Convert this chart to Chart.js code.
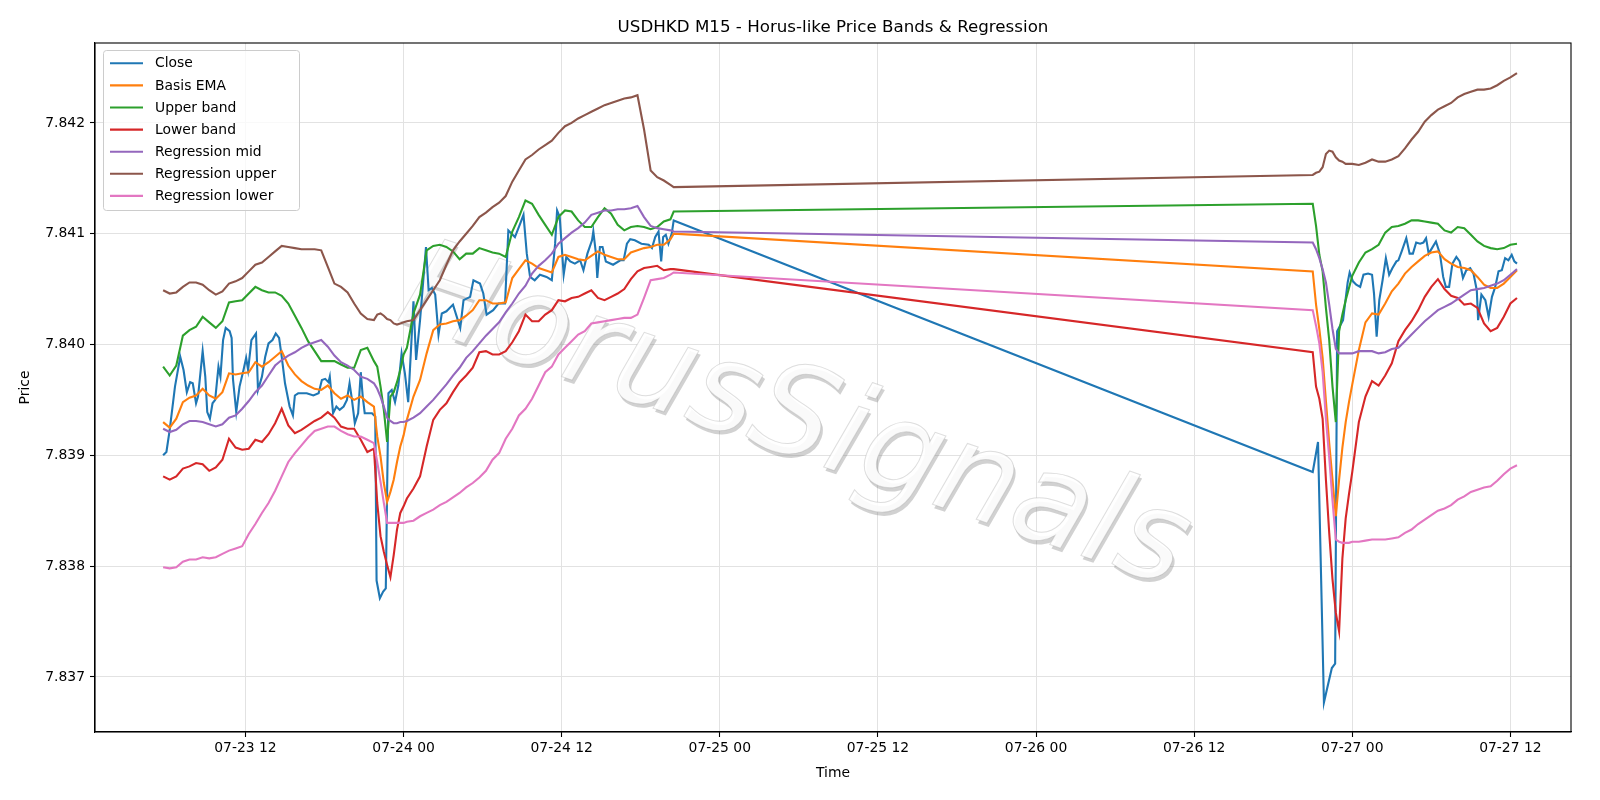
<!DOCTYPE html>
<html>
<head>
<meta charset="utf-8">
<script src="https://cdn.jsdelivr.net/npm/chart.js@4.4.1/dist/chart.umd.min.js"></script>
<style>
  html, body { margin: 0; padding: 0; background: #fff; }
  #wrap { width: 1600px; height: 800px; }
</style>
</head>
<body>
<div id="wrap"><canvas id="chart" width="1600" height="800"></canvas></div>
<script>
// hours counted from 07-23 00:00
const closeHours = [
  5.75,6.0,6.25,6.65,7.05,7.3,7.55,7.8,8.0,8.25,
  8.4,8.75,8.95,9.1,9.3,9.5,9.7,9.95,10.1,10.3,
  10.5,10.8,10.95,11.05,11.3,11.55,11.85,12.05,12.2,12.45,
  12.8,12.95,13.25,13.5,13.75,14.05,14.3,14.55,14.75,15.0,
  15.35,15.6,15.75,16.0,16.4,16.65,17.15,17.55,17.8,18.05,
  18.3,18.4,18.65,18.9,19.15,19.45,19.7,19.9,20.05,20.3,
  20.55,20.75,20.9,21.05,21.3,21.6,21.85,21.95,22.2,22.45,
  22.65,22.85,23.1,23.35,23.6,23.85,24.1,24.35,24.6,24.75,
  24.95,25.25,25.7,25.9,26.15,26.4,26.65,26.9,27.25,27.75,
  28.3,28.55,29.05,29.3,29.8,30.05,30.3,30.8,31.2,31.7,
  31.95,32.2,32.45,32.85,33.1,33.35,33.6,33.95,34.35,34.85,
  35.25,35.5,35.65,35.85,36.15,36.35,36.65,37.0,37.4,37.65,
  37.95,38.3,38.4,38.6,38.7,38.9,39.1,39.35,39.9,40.45,
  40.7,40.95,41.2,41.55,42.05,42.6,42.85,43.1,43.35,43.55,
  43.7,43.9,44.1,44.35,44.5,
  93.0,93.4,93.85,94.1,94.45,94.7,94.85,95.3,95.65,95.8,
  96.05,96.3,96.6,96.85,97.2,97.5,97.65,97.85,98.05,98.3,
  98.55,98.8,99.05,99.35,99.5,99.75,100.1,100.35,100.6,100.85,
  101.15,101.4,101.6,101.8,102.05,102.35,102.65,102.9,103.1,103.35,
  103.6,103.9,104.15,104.4,104.65,104.95,105.2,105.45,105.55,105.8,
  106.1,106.35,106.6,106.85,107.1,107.35,107.6,107.85,108.1,108.3,
  108.5
];
const closePrices = [
  7.83900,7.83903,7.83923,7.83962,7.83989,7.83977,7.83957,7.83966,7.83965,7.83947,
  7.83953,7.83994,7.83971,7.83939,7.83933,7.83947,7.83950,7.83980,7.83971,7.84004,
  7.84015,7.84012,7.84006,7.83969,7.83939,7.83962,7.83977,7.83988,7.83977,7.84004,
  7.84010,7.83959,7.83971,7.83989,7.84001,7.84004,7.84010,7.84006,7.83989,7.83965,
  7.83944,7.83936,7.83954,7.83956,7.83956,7.83956,7.83954,7.83956,7.83968,7.83969,
  7.83966,7.83971,7.83938,7.83944,7.83941,7.83944,7.83950,7.83965,7.83953,7.83929,
  7.83938,7.83975,7.83953,7.83938,7.83938,7.83938,7.83935,7.83787,7.83771,7.83777,
  7.83780,7.83956,7.83959,7.83948,7.83963,7.83992,7.83974,7.83948,7.84004,7.84039,
  7.83986,7.84022,7.84088,7.84049,7.84051,7.84045,7.84009,7.84028,7.84030,7.84036,
  7.84015,7.84040,7.84043,7.84058,7.84055,7.84046,7.84027,7.84031,7.84037,7.84037,
  7.84103,7.84100,7.84097,7.84109,7.84117,7.84082,7.84061,7.84058,7.84063,7.84061,
  7.84058,7.84091,7.84121,7.84115,7.84063,7.84079,7.84075,7.84073,7.84076,7.84067,
  7.84082,7.84094,7.84102,7.84082,7.84060,7.84088,7.84088,7.84075,7.84072,7.84076,
  7.84076,7.84091,7.84095,7.84094,7.84091,7.84090,7.84087,7.84097,7.84102,7.84075,
  7.84097,7.84099,7.84091,7.84100,7.84112,
  7.83885,7.83912,7.83677,7.83690,7.83708,7.83712,7.84012,7.84022,7.84056,7.84065,
  7.84057,7.84054,7.84052,7.84063,7.84064,7.84063,7.84046,7.84007,7.84040,7.84058,
  7.84078,7.84063,7.84069,7.84075,7.84076,7.84084,7.84096,7.84082,7.84082,7.84092,
  7.84091,7.84092,7.84096,7.84082,7.84087,7.84093,7.84082,7.84061,7.84052,7.84052,
  7.84073,7.84079,7.84075,7.84060,7.84067,7.84069,7.84064,7.84049,7.84022,7.84045,
  7.84040,7.84025,7.84043,7.84052,7.84066,7.84067,7.84078,7.84076,7.84081,7.84075,
  7.84073
];

const bandHours = [
  5.75,6.25,6.75,7.25,7.75,8.25,8.75,9.25,9.75,
  10.25,10.75,11.25,11.75,12.25,12.75,13.25,13.75,14.25,
  14.75,15.25,15.75,16.25,16.75,17.25,17.75,18.25,18.75,
  19.25,19.75,20.25,20.75,21.25,21.75,
  22.0,22.25,22.5,22.75,23.0,23.25,23.5,23.75,24.0,
  24.25,24.75,25.25,25.75,26.25,26.75,27.25,27.75,28.25,
  28.75,29.25,29.75,30.25,30.75,31.25,31.75,32.25,32.75,
  33.25,33.75,34.25,34.75,35.25,35.75,36.25,36.75,37.25,
  37.75,38.25,38.75,39.25,39.75,40.25,40.75,41.25,41.75,
  42.25,42.75,43.25,43.75,44.25,44.5,
  93,93.25,93.5,93.75,94,94.25,94.5,94.75,95,
  95.25,95.5,95.75,96,96.5,97,
  97.5,98,98.5,99,99.5,100,100.5,101,101.5,
  102,102.5,103,103.5,104,104.5,105,105.5,106,
  106.5,107,107.5,108,108.5
];

const basisEma = [
  7.83930,7.83925,7.83933,7.83948,7.83952,7.83954,7.83960,7.83954,7.83951,
  7.83957,7.83974,7.83973,7.83974,7.83975,7.83984,7.83980,7.83984,7.83989,
  7.83994,7.83981,7.83973,7.83967,7.83963,7.83960,7.83959,7.83963,7.83956,
  7.83951,7.83954,7.83950,7.83953,7.83948,7.83944,
  7.83917,7.83899,7.83875,7.83858,7.83867,7.83878,7.83894,7.83908,7.83918,
  7.83932,7.83953,7.83968,7.83992,7.84013,7.84018,7.84019,7.84021,7.84022,
  7.84026,7.84031,7.84040,7.84040,7.84037,7.84037,7.84038,7.84060,7.84068,
  7.84076,7.84073,7.84069,7.84067,7.84065,7.84079,7.84081,7.84079,7.84077,
  7.84076,7.84080,7.84084,7.84081,7.84079,7.84077,7.84077,7.84083,7.84085,
  7.84087,7.84088,7.84090,7.84090,7.84095,7.84100,
  7.84066,7.84036,7.84014,7.83988,7.83949,7.83911,7.83878,7.83845,7.83878,
  7.83907,7.83930,7.83948,7.83964,7.83995,7.84020,
  7.84028,7.84027,7.84037,7.84048,7.84055,7.84064,7.84070,7.84075,7.84080,
  7.84083,7.84084,7.84077,7.84073,7.84070,7.84069,7.84067,7.84061,7.84054,
  7.84051,7.84051,7.84055,7.84061,7.84067
];

const upperBand = [
  7.83980,7.83972,7.83981,7.84008,7.84013,7.84016,7.84025,7.84020,7.84015,
  7.84021,7.84038,7.84039,7.84040,7.84046,7.84052,7.84049,7.84047,7.84047,
  7.84044,7.84037,7.84026,7.84015,7.84003,7.83994,7.83985,7.83985,7.83985,
  7.83982,7.83979,7.83979,7.83995,7.83997,7.83985,
  7.83980,7.83962,7.83941,7.83912,7.83953,7.83957,7.83966,7.83977,7.83991,
  7.83997,7.84028,7.84045,7.84085,7.84089,7.84090,7.84088,7.84084,7.84077,
  7.84082,7.84082,7.84087,7.84085,7.84083,7.84082,7.84079,7.84102,7.84115,
  7.84130,7.84127,7.84117,7.84108,7.84099,7.84115,7.84121,7.84120,7.84112,
  7.84106,7.84106,7.84115,7.84123,7.84118,7.84108,7.84103,7.84106,7.84107,
  7.84106,7.84104,7.84106,7.84111,7.84113,7.84120,
  7.84127,7.84107,7.84081,7.84066,7.84033,7.84004,7.83962,7.83930,7.84012,
  7.84027,7.84040,7.84051,7.84062,7.84074,7.84083,
  7.84086,7.84090,7.84101,7.84106,7.84107,7.84109,7.84112,7.84112,7.84111,
  7.84110,7.84109,7.84103,7.84101,7.84106,7.84105,7.84099,7.84093,7.84089,
  7.84087,7.84086,7.84087,7.84090,7.84091
];

const lowerBand = [
  7.83881,7.83878,7.83881,7.83888,7.83890,7.83893,7.83892,7.83886,7.83889,
  7.83896,7.83915,7.83907,7.83905,7.83906,7.83914,7.83912,7.83919,7.83929,
  7.83942,7.83927,7.83920,7.83923,7.83927,7.83931,7.83934,7.83939,7.83934,
  7.83926,7.83924,7.83924,7.83914,7.83903,7.83906,
  7.83857,7.83827,7.83813,7.83801,7.83790,7.83810,7.83833,7.83848,7.83854,
  7.83861,7.83870,7.83881,7.83908,7.83932,7.83941,7.83947,7.83957,7.83966,
  7.83972,7.83979,7.83993,7.83994,7.83991,7.83991,7.83994,7.84002,7.84012,
  7.84027,7.84021,7.84021,7.84027,7.84031,7.84040,7.84039,7.84042,7.84043,
  7.84046,7.84049,7.84042,7.84040,7.84043,7.84046,7.84050,7.84059,7.84066,
  7.84069,7.84070,7.84071,7.84067,7.84068,7.84068,
  7.83993,7.83962,7.83951,7.83933,7.83878,7.83830,7.83788,7.83758,7.83741,
  7.83807,7.83843,7.83865,7.83885,7.83930,7.83953,
  7.83967,7.83963,7.83972,7.83983,7.84003,7.84013,7.84021,7.84031,7.84043,
  7.84052,7.84059,7.84050,7.84044,7.84042,7.84036,7.84037,7.84033,7.84019,
  7.84012,7.84015,7.84025,7.84037,7.84042
];

const regMid = [
  7.83924,7.83921,7.83923,7.83928,7.83931,7.83931,7.83930,7.83928,7.83926,
  7.83928,7.83934,7.83936,7.83942,7.83949,7.83957,7.83963,7.83972,7.83981,
  7.83986,7.83990,7.83993,7.83997,7.84000,7.84002,7.84004,7.83998,7.83990,
  7.83984,7.83981,7.83977,7.83971,7.83969,7.83965,
  7.83960,7.83953,7.83944,7.83934,7.83931,7.83929,7.83929,7.83930,7.83930,
  7.83931,7.83934,7.83938,7.83944,7.83950,7.83957,7.83964,7.83972,7.83979,
  7.83988,7.83994,7.84001,7.84008,7.84014,7.84020,7.84029,7.84037,7.84046,
  7.84053,7.84064,7.84071,7.84076,7.84082,7.84091,7.84096,7.84101,7.84105,
  7.84110,7.84117,7.84119,7.84121,7.84121,7.84122,7.84122,7.84123,7.84125,
  7.84115,7.84107,7.84105,7.84104,7.84103,7.84102,
  7.84092,7.84086,7.84078,7.84068,7.84056,7.84036,7.84014,7.83996,7.83992,
  7.83992,7.83992,7.83992,7.83992,7.83994,7.83994,
  7.83994,7.83992,7.83993,7.83996,7.83997,7.84003,7.84009,7.84015,7.84021,
  7.84026,7.84031,7.84034,7.84037,7.84041,7.84045,7.84049,7.84050,7.84051,
  7.84053,7.84055,7.84058,7.84063,7.84068
];

const regUpper = [
  7.84049,7.84046,7.84047,7.84052,7.84056,7.84056,7.84054,7.84049,7.84045,
  7.84048,7.84055,7.84057,7.84060,7.84066,7.84072,7.84074,7.84079,7.84084,
  7.84089,7.84088,7.84087,7.84086,7.84086,7.84086,7.84085,7.84070,7.84055,
  7.84052,7.84047,7.84037,7.84028,7.84023,7.84022,
  7.84027,7.84028,7.84026,7.84023,7.84022,7.84019,7.84018,7.84019,7.84020,
  7.84021,7.84022,7.84031,7.84040,7.84049,7.84058,7.84072,7.84085,7.84093,
  7.84100,7.84107,7.84115,7.84119,7.84124,7.84128,7.84134,7.84147,7.84157,
  7.84167,7.84171,7.84176,7.84180,7.84184,7.84191,7.84197,7.84200,7.84204,
  7.84207,7.84210,7.84213,7.84216,7.84218,7.84220,7.84222,7.84223,7.84225,
  7.84194,7.84157,7.84151,7.84148,7.84144,7.84142,
  7.84153,7.84155,7.84156,7.84160,7.84172,7.84175,7.84174,7.84169,7.84166,
  7.84165,7.84163,7.84163,7.84163,7.84162,7.84164,
  7.84167,7.84165,7.84165,7.84167,7.84170,7.84177,7.84185,7.84192,7.84201,
  7.84207,7.84212,7.84215,7.84218,7.84223,7.84226,7.84228,7.84230,7.84230,
  7.84231,7.84234,7.84238,7.84241,7.84245
];

const regLower = [
  7.83799,7.83798,7.83799,7.83804,7.83806,7.83806,7.83808,7.83807,7.83808,
  7.83811,7.83814,7.83816,7.83818,7.83829,7.83838,7.83848,7.83857,7.83868,
  7.83881,7.83894,7.83902,7.83909,7.83916,7.83922,7.83924,7.83926,7.83926,
  7.83922,7.83919,7.83917,7.83917,7.83914,7.83911,
  7.83894,7.83876,7.83857,7.83839,7.83839,7.83839,7.83839,7.83839,7.83839,
  7.83840,7.83841,7.83845,7.83848,7.83851,7.83855,7.83858,7.83862,7.83866,
  7.83871,7.83875,7.83880,7.83886,7.83896,7.83902,7.83915,7.83924,7.83936,
  7.83942,7.83951,7.83963,7.83975,7.83980,7.83991,7.83997,7.84003,7.84009,
  7.84012,7.84019,7.84020,7.84021,7.84022,7.84023,7.84024,7.84024,7.84027,
  7.84042,7.84058,7.84059,7.84060,7.84063,7.84065,
  7.84031,7.84017,7.84001,7.83975,7.83933,7.83898,7.83859,7.83824,7.83822,
  7.83821,7.83821,7.83821,7.83822,7.83822,7.83823,
  7.83824,7.83824,7.83824,7.83825,7.83826,7.83830,7.83833,7.83838,7.83842,
  7.83846,7.83850,7.83852,7.83855,7.83860,7.83863,7.83867,7.83869,7.83871,
  7.83872,7.83877,7.83883,7.83888,7.83891
];

const xTickHours = [12, 24, 36, 48, 60, 72, 84, 96, 108];
const yTickValues = [7.837, 7.838, 7.839, 7.840, 7.841, 7.842];

const FONT = '"DejaVu Sans", "Liberation Sans", sans-serif';
const TITLE = 'USDHKD M15 - Horus-like Price Bands & Regression';
const WATERMARK = 'HorusSignals';

const SERIES = [
  { label: 'Close', hours: closeHours, values: closePrices, color: '#1f77b4' },
  { label: 'Basis EMA', hours: bandHours, values: basisEma, color: '#ff7f0e' },
  { label: 'Upper band', hours: bandHours, values: upperBand, color: '#2ca02c' },
  { label: 'Lower band', hours: bandHours, values: lowerBand, color: '#d62728' },
  { label: 'Regression mid', hours: bandHours, values: regMid, color: '#9467bd' },
  { label: 'Regression upper', hours: bandHours, values: regUpper, color: '#8c564b' },
  { label: 'Regression lower', hours: bandHours, values: regLower, color: '#e377c2' }
];

function hourLabel(h) {
  const day = 23 + Math.floor(h / 24);
  const hr = h % 24;
  return `07-${day} ${String(hr).padStart(2, '0')}`;
}

function toPoints(xs, ys) {
  return xs.map((x, i) => ({ x: x, y: ys[i] }));
}

const decor = {
  id: 'decor',
  beforeDatasetsDraw(chart) {
    const ctx = chart.ctx;
    ctx.save();
    ctx.translate(794, 422);
    ctx.rotate(19 * Math.PI / 180);
    ctx.font = 'italic 126px ' + FONT;
    ctx.textAlign = 'center';
    ctx.textBaseline = 'middle';
    ctx.fillStyle = 'rgba(128,128,128,0.36)';
    ctx.fillText(WATERMARK, 3, 3);
    ctx.fillStyle = 'rgba(255,255,255,0.9)';
    ctx.fillText(WATERMARK, 0, 0);
    ctx.strokeStyle = 'rgba(160,160,160,0.35)';
    ctx.lineWidth = 1;
    ctx.strokeText(WATERMARK, 0, 0);
    ctx.restore();
  },
  afterDatasetsDraw(chart) {
    const ctx = chart.ctx;
    const a = chart.chartArea;
    ctx.save();
    ctx.strokeStyle = '#000';
    ctx.lineWidth = 1.1;
    ctx.strokeRect(a.left, a.top, a.right - a.left, a.bottom - a.top);

    // legend box
    const bx = 103.5, by = 50.5, bw = 196, bh = 160;
    ctx.beginPath();
    ctx.roundRect(bx, by, bw, bh, 3);
    ctx.fillStyle = 'rgba(255,255,255,0.8)';
    ctx.fill();
    ctx.strokeStyle = '#cccccc';
    ctx.lineWidth = 1;
    ctx.stroke();
    ctx.font = '13.9px ' + FONT;
    ctx.textBaseline = 'middle';
    ctx.textAlign = 'left';
    SERIES.forEach((s, i) => {
      const y = 63.3 + i * 22.1;
      ctx.beginPath();
      ctx.moveTo(110, y);
      ctx.lineTo(143, y);
      ctx.strokeStyle = s.color;
      ctx.lineWidth = 2.1;
      ctx.stroke();
      ctx.fillStyle = '#000';
      ctx.fillText(s.label, 155, y + 0.5);
    });

    ctx.font = '16.7px ' + FONT;
    ctx.textAlign = 'center';
    ctx.fillStyle = '#000';
    ctx.fillText(TITLE, (a.left + a.right) / 2, 27.5);
    ctx.restore();
  }
};

document.addEventListener('DOMContentLoaded', () => {
  const datasets = SERIES.map((s, i) => ({
    label: s.label,
    data: toPoints(s.hours, s.values),
    borderColor: s.color,
    backgroundColor: s.color,
    borderWidth: 2.1,
    pointRadius: 0,
    tension: 0,
    fill: false,
    order: SERIES.length - i
  }));

  const tickFont = { family: FONT, size: 13.9 };

  new Chart(document.getElementById('chart'), {
    type: 'line',
    data: { datasets },
    options: {
      responsive: false,
      animation: false,
      devicePixelRatio: 1,
      layout: { padding: { top: 43, right: 29, left: 0, bottom: 0 } },
      plugins: {
        legend: { display: false },
        title: { display: false },
        tooltip: { enabled: false }
      },
      scales: {
        x: {
          type: 'linear',
          min: 0.58,
          max: 112.6,
          afterBuildTicks: s => { s.ticks = xTickHours.map(v => ({ value: v })); },
          afterFit: s => { s.height = 68; },
          ticks: { callback: v => hourLabel(v), color: '#000', font: tickFont, padding: 3, autoSkip: false, maxRotation: 0 },
          grid: { color: '#e2e2e2', lineWidth: 1, tickLength: 5, tickColor: '#000', tickWidth: 1.1 },
          border: { display: true, color: '#000', width: 1.1 },
          title: { display: true, text: 'Time', color: '#000', font: tickFont, padding: { top: 0, bottom: 18 } }
        },
        y: {
          type: 'linear',
          min: 7.836503,
          max: 7.842721,
          afterBuildTicks: s => { s.ticks = yTickValues.map(v => ({ value: v })); },
          afterFit: s => { s.width = 95; },
          ticks: { callback: v => v.toFixed(3), color: '#000', font: tickFont, padding: 5, autoSkip: false },
          grid: { color: '#e2e2e2', lineWidth: 1, tickLength: 5, tickColor: '#000', tickWidth: 1.1 },
          border: { display: true, color: '#000', width: 1.1 },
          title: { display: true, text: 'Price', color: '#000', font: tickFont, padding: { top: 17, bottom: 0 } }
        }
      }
    },
    plugins: [decor]
  });
});
</script>
</body>
</html>
